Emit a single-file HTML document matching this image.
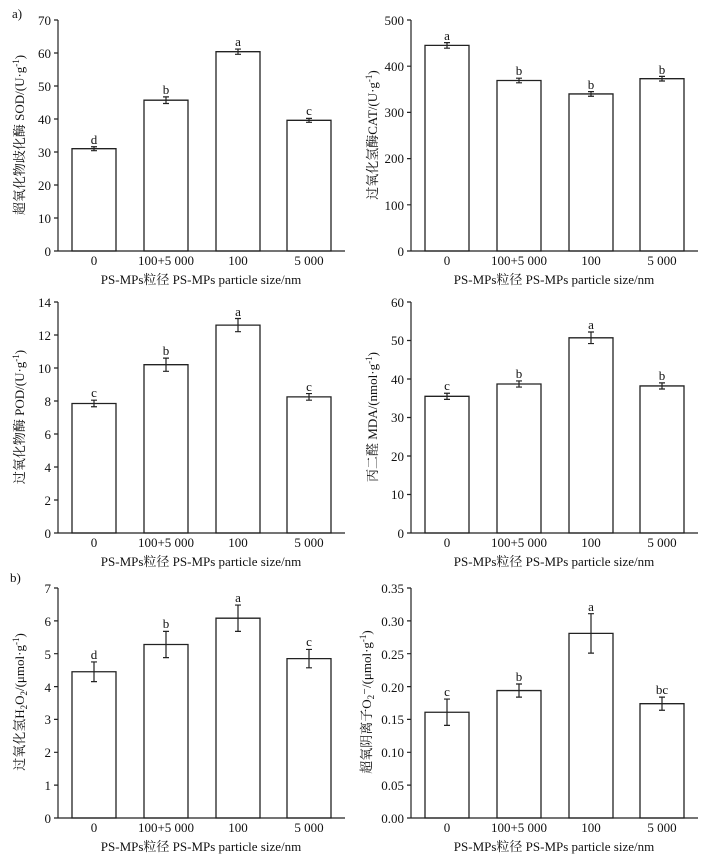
<!DOCTYPE html>
<html><head><meta charset="utf-8"><style>
body{margin:0;background:#fff}
svg{display:block;font-family:"Liberation Serif","Noto Serif CJK SC",serif;fill:#111}
.b{fill:#fff;stroke:#222;stroke-width:1.3}
.e,.a{stroke:#222;stroke-width:1.2;fill:none}
text{font-size:13px}
.t{text-anchor:end}
.m{text-anchor:middle}
</style></head><body>
<svg width="710" height="859" viewBox="0 0 710 859">
<defs>
<style>rect,line,path{vector-effect:non-scaling-stroke}</style>
</defs>
<text x="12" y="18">a)</text>
<text x="10" y="582">b)</text>

<!-- Panel 1 -->
<g transform="translate(58,251) scale(1,-3.3)">
<rect class="b" x="14" y="0" width="44" height="31"/><rect class="b" x="86" y="0" width="44" height="45.7"/><rect class="b" x="158" y="0" width="44" height="60.4"/><rect class="b" x="229" y="0" width="44" height="39.6"/>
<path class="e" d="M36 30.4V31.6M33 30.4H39M33 31.6H39M108 44.7V46.7M105 44.7H111M105 46.7H111M180 59.6V61.2M177 59.6H183M177 61.2H183M251 39V40.2M248 39H254M248 40.2H254"/>
</g>
<path class="a" d="M58 20V251H345M54 20H58M54 53H58M54 86H58M54 119H58M54 152H58M54 185H58M54 218H58M54 251H58"/>
<g class="t"><text x="51" y="25" class="t">70</text><text x="51" y="58" class="t">60</text><text x="51" y="91" class="t">50</text><text x="51" y="124" class="t">40</text><text x="51" y="157" class="t">30</text><text x="51" y="190" class="t">20</text><text x="51" y="223" class="t">10</text><text x="51" y="256" class="t">0</text></g>
<text class="m" x="94" y="144">d</text><text class="m" x="166" y="94">b</text><text class="m" x="238" y="46">a</text><text class="m" x="309" y="115">c</text>
<text class="m" x="94" y="265">0</text><text class="m" x="166" y="265">100+5 000</text><text class="m" x="238" y="265">100</text><text class="m" x="309" y="265">5 000</text>
<text class="m" x="201" y="284">PS-MPs粒径 PS-MPs particle size/nm</text>
<text class="m" transform="translate(24,135) rotate(-90)">超氧化物歧化酶 SOD/(U·g<tspan dy="-5" font-size="9">-1</tspan><tspan dy="5">)</tspan></text>

<!-- Panel 2 -->
<g transform="translate(411,251) scale(1,-0.462)">
<rect class="b" x="14" y="0" width="44" height="445"/><rect class="b" x="86" y="0" width="44" height="369"/><rect class="b" x="158" y="0" width="44" height="340"/><rect class="b" x="229" y="0" width="44" height="373"/>
<path class="e" d="M36 439V451M33 439H39M33 451H39M108 364V374M105 364H111M105 374H111M180 335V345M177 335H183M177 345H183M251 368V378M248 368H254M248 378H254"/>
</g>
<path class="a" d="M411 20V251H698M407 20H411M407 66.2H411M407 112.4H411M407 158.6H411M407 204.8H411M407 251H411"/>
<text x="404" y="25" class="t">500</text><text x="404" y="71" class="t">400</text><text x="404" y="117" class="t">300</text><text x="404" y="163" class="t">200</text><text x="404" y="210" class="t">100</text><text x="404" y="256" class="t">0</text>
<text class="m" x="447" y="40">a</text><text class="m" x="519" y="75">b</text><text class="m" x="591" y="89">b</text><text class="m" x="662" y="74">b</text>
<text class="m" x="447" y="265">0</text><text class="m" x="519" y="265">100+5 000</text><text class="m" x="591" y="265">100</text><text class="m" x="662" y="265">5 000</text>
<text class="m" x="554" y="284">PS-MPs粒径 PS-MPs particle size/nm</text>
<text class="m" transform="translate(377,135) rotate(-90)">过氧化氢酶CAT/(U·g<tspan dy="-5" font-size="9">-1</tspan><tspan dy="5">)</tspan></text>

<!-- Panel 3 -->
<g transform="translate(58,533) scale(1,-16.5)">
<rect class="b" x="14" y="0" width="44" height="7.85"/><rect class="b" x="86" y="0" width="44" height="10.2"/><rect class="b" x="158" y="0" width="44" height="12.6"/><rect class="b" x="229" y="0" width="44" height="8.25"/>
<path class="e" d="M36 7.65V8.05M33 7.65H39M33 8.05H39M108 9.8V10.6M105 9.8H111M105 10.6H111M180 12.2V13M177 12.2H183M177 13H183M251 8.05V8.45M248 8.05H254M248 8.45H254"/>
</g>
<path class="a" d="M58 302V533H345M54 302H58M54 335H58M54 368H58M54 401H58M54 434H58M54 467H58M54 500H58M54 533H58"/>
<text x="51" y="307" class="t">14</text><text x="51" y="340" class="t">12</text><text x="51" y="373" class="t">10</text><text x="51" y="406" class="t">8</text><text x="51" y="439" class="t">6</text><text x="51" y="472" class="t">4</text><text x="51" y="505" class="t">2</text><text x="51" y="538" class="t">0</text>
<text class="m" x="94" y="397">c</text><text class="m" x="166" y="355">b</text><text class="m" x="238" y="316">a</text><text class="m" x="309" y="391">c</text>
<text class="m" x="94" y="547">0</text><text class="m" x="166" y="547">100+5 000</text><text class="m" x="238" y="547">100</text><text class="m" x="309" y="547">5 000</text>
<text class="m" x="201" y="566">PS-MPs粒径 PS-MPs particle size/nm</text>
<text class="m" transform="translate(24,417) rotate(-90)">过氧化物酶 POD/(U·g<tspan dy="-5" font-size="9">-1</tspan><tspan dy="5">)</tspan></text>

<!-- Panel 4 -->
<g transform="translate(411,533) scale(1,-3.85)">
<rect class="b" x="14" y="0" width="44" height="35.5"/><rect class="b" x="86" y="0" width="44" height="38.7"/><rect class="b" x="158" y="0" width="44" height="50.7"/><rect class="b" x="229" y="0" width="44" height="38.2"/>
<path class="e" d="M36 34.7V36.3M33 34.7H39M33 36.3H39M108 37.9V39.5M105 37.9H111M105 39.5H111M180 49.2V52.2M177 49.2H183M177 52.2H183M251 37.4V39M248 37.4H254M248 39H254"/>
</g>
<path class="a" d="M411 302V533H698M407 302H411M407 340.5H411M407 379H411M407 417.5H411M407 456H411M407 494.5H411M407 533H411"/>
<text x="404" y="307" class="t">60</text><text x="404" y="345" class="t">50</text><text x="404" y="384" class="t">40</text><text x="404" y="422" class="t">30</text><text x="404" y="461" class="t">20</text><text x="404" y="499" class="t">10</text><text x="404" y="538" class="t">0</text>
<text class="m" x="447" y="390">c</text><text class="m" x="519" y="378">b</text><text class="m" x="591" y="329">a</text><text class="m" x="662" y="380">b</text>
<text class="m" x="447" y="547">0</text><text class="m" x="519" y="547">100+5 000</text><text class="m" x="591" y="547">100</text><text class="m" x="662" y="547">5 000</text>
<text class="m" x="554" y="566">PS-MPs粒径 PS-MPs particle size/nm</text>
<text class="m" transform="translate(377,417) rotate(-90)">丙二醛 MDA/(nmol·g<tspan dy="-5" font-size="9">-1</tspan><tspan dy="5">)</tspan></text>

<!-- Panel 5 -->
<g transform="translate(58,818) scale(1,-32.86)">
<rect class="b" x="14" y="0" width="44" height="4.45"/><rect class="b" x="86" y="0" width="44" height="5.28"/><rect class="b" x="158" y="0" width="44" height="6.08"/><rect class="b" x="229" y="0" width="44" height="4.85"/>
<path class="e" d="M36 4.15V4.75M33 4.15H39M33 4.75H39M108 4.88V5.68M105 4.88H111M105 5.68H111M180 5.68V6.48M177 5.68H183M177 6.48H183M251 4.57V5.13M248 4.57H254M248 5.13H254"/>
</g>
<path class="a" d="M58 588V818H345M54 588H58M54 620.9H58M54 653.7H58M54 686.6H58M54 719.4H58M54 752.3H58M54 785.1H58M54 818H58"/>
<text x="51" y="593" class="t">7</text><text x="51" y="626" class="t">6</text><text x="51" y="659" class="t">5</text><text x="51" y="692" class="t">4</text><text x="51" y="724" class="t">3</text><text x="51" y="757" class="t">2</text><text x="51" y="790" class="t">1</text><text x="51" y="823" class="t">0</text>
<text class="m" x="94" y="659">d</text><text class="m" x="166" y="628">b</text><text class="m" x="238" y="602">a</text><text class="m" x="309" y="646">c</text>
<text class="m" x="94" y="832">0</text><text class="m" x="166" y="832">100+5 000</text><text class="m" x="238" y="832">100</text><text class="m" x="309" y="832">5 000</text>
<text class="m" x="201" y="851">PS-MPs粒径 PS-MPs particle size/nm</text>
<text class="m" transform="translate(24,702) rotate(-90)">过氧化氢H<tspan dy="3" font-size="9">2</tspan><tspan dy="-3">O</tspan><tspan dy="3" font-size="9">2</tspan><tspan dy="-3">/(μmol·g</tspan><tspan dy="-5" font-size="9">-1</tspan><tspan dy="5">)</tspan></text>

<!-- Panel 6 -->
<g transform="translate(411,818) scale(1,-657)">
<rect class="b" x="14" y="0" width="44" height="0.161"/><rect class="b" x="86" y="0" width="44" height="0.194"/><rect class="b" x="158" y="0" width="44" height="0.281"/><rect class="b" x="229" y="0" width="44" height="0.174"/>
<path class="e" d="M36 0.141V0.181M33 0.141H39M33 0.181H39M108 0.184V0.204M105 0.184H111M105 0.204H111M180 0.251V0.311M177 0.251H183M177 0.311H183M251 0.164V0.184M248 0.164H254M248 0.184H254"/>
</g>
<path class="a" d="M411 588V818H698M407 588H411M407 620.9H411M407 653.7H411M407 686.6H411M407 719.4H411M407 752.3H411M407 785.1H411M407 818H411"/>
<text x="404" y="593" class="t">0.35</text><text x="404" y="626" class="t">0.30</text><text x="404" y="659" class="t">0.25</text><text x="404" y="692" class="t">0.20</text><text x="404" y="724" class="t">0.15</text><text x="404" y="757" class="t">0.10</text><text x="404" y="790" class="t">0.05</text><text x="404" y="823" class="t">0.00</text>
<text class="m" x="447" y="696">c</text><text class="m" x="519" y="681">b</text><text class="m" x="591" y="611">a</text><text class="m" x="662" y="694">bc</text>
<text class="m" x="447" y="832">0</text><text class="m" x="519" y="832">100+5 000</text><text class="m" x="591" y="832">100</text><text class="m" x="662" y="832">5 000</text>
<text class="m" x="554" y="851">PS-MPs粒径 PS-MPs particle size/nm</text>
<text class="m" transform="translate(371,702) rotate(-90)">超氧阴离子O<tspan dy="3" font-size="9">2</tspan><tspan dy="-3">⁻/(μmol·g</tspan><tspan dy="-5" font-size="9">-1</tspan><tspan dy="5">)</tspan></text>
</svg>
</body></html>
